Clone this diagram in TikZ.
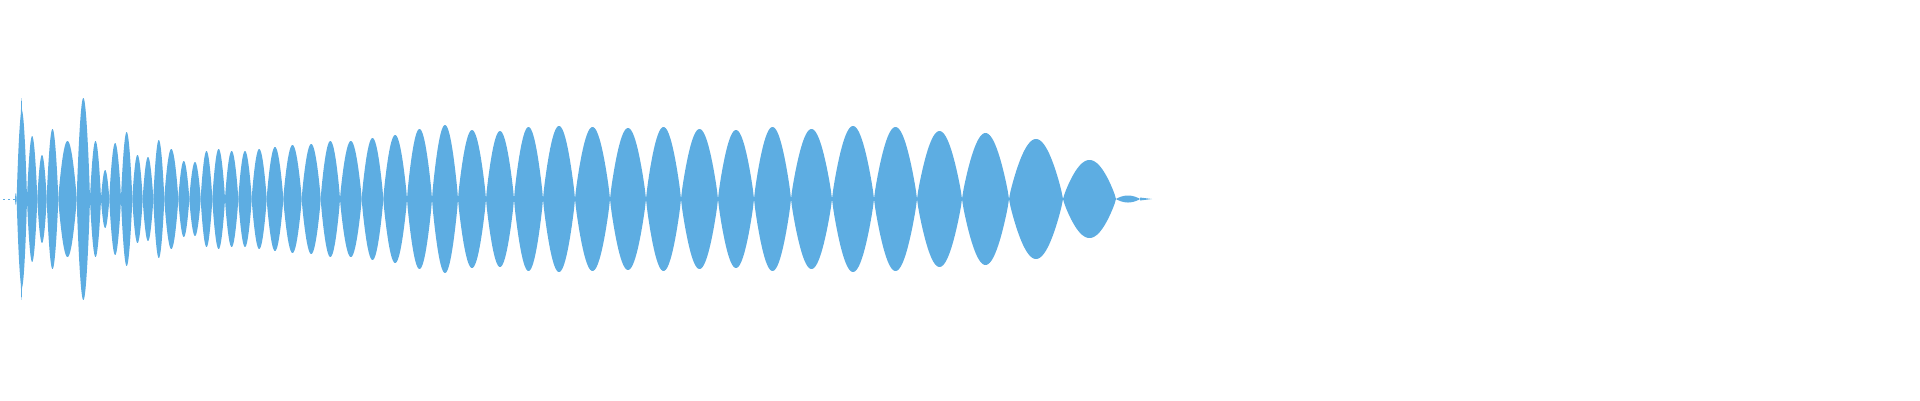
\documentclass[tikz,border=0pt]{standalone}
\definecolor{wave}{RGB}{93,173,226}
\begin{document}
\begin{tikzpicture}[x=1pt,y=-1pt,lobe/.style={fill=wave,draw=none}]
\useasboundingbox (0,0) rectangle (1920,400);
\draw[wave,dashed,dash pattern=on 2pt off 3pt,line width=0.8pt] (3,199) -- (15,199);
\foreach \a/\b/\h in {15/16.7/6,16.7/27/88,20/23/101,27/37.3/63,37.3/46.7/44,46.7/58.3/70,58.3/76.7/58,76.7/90/101,90/101/58,101/109.3/29,109.3/121/56,121/132.3/67,132.3/142.7/44,142.7/153.3/42,153.3/164.3/59,164.3/178.3/50,178.3/189.3/38,189.3/200.7/37,200.7/212.3/48,212.3/225/50,225/238.3/48,238.3/251.7/48,251.7/266.7/50,266.7/283.3/52,283.3/301.7/54,301.7/320.7/55,320.7/340/58,340/361.7/58,361.7/383.3/61,383.3/407/64,407/432/70,432/458/74,458/486/69,486/514/68,514/543/72,543/575/73,575/610/72,610/646/71,646/681/72,681/718/70,718/754/69,754/791/72,791/832/70,832/874/73,874/917/72,917/962/68,962/1009/66,1009/1063/60,1063/1116/39,1116/1140/3.5}{
  \fill[lobe] plot[domain=0:180,samples=40] ({\a+(\b-\a)*\x/180},{199-\h*pow(sin(\x),0.85)}) -- plot[domain=180:0,samples=40] ({\a+(\b-\a)*\x/180},{199+\h*pow(sin(\x),0.85)}) -- cycle;
}
\fill[wave] (1140,197.5) -- (1152,199) -- (1140,200.5) -- cycle;
\end{tikzpicture}
\end{document}
